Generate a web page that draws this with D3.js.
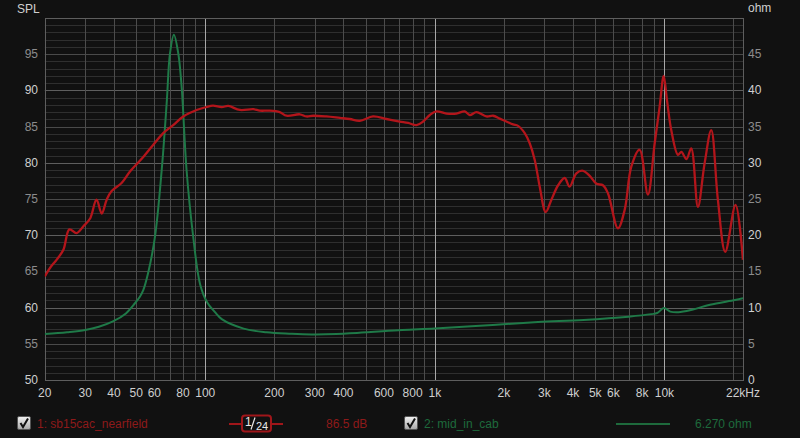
<!DOCTYPE html>
<html><head><meta charset="utf-8">
<script src="https://cdn.jsdelivr.net/npm/d3@7"></script>
<style>
html,body{margin:0;padding:0;background:#111111;}
svg{display:block;font-family:"Liberation Sans",Arial,sans-serif;}
</style></head>
<body>
<svg id="chart" width="800" height="438"></svg>
<script>
// ---- data ----
const splFreq = [20,21.1,22.5,24.1,25.6,27.5,29.4,31.5,33.6,35.4,37.2,39.1,43.2,47,53.7,59.4,65.6,72.5,80.2,91.7,101,108,118,126,141.5,162,173,191,211,226,258,276,295,337,386,426,471,538,616,703,765,832,889,951,1016,1124,1242,1350,1420,1518,1678,1794,1918,2050,2192,2304,2464,2590,2724,2864,3042,3220,3444,3680,3866,4136,4420,4728,5060,5400,5676,6278,6714,7180,7800,8476,9072,9530,9930,10260,10716,11456,11858,12474,13092,13996,14964,16000,17100,18410,20420,21980];
const splDb = [64.3,65.5,66.6,68.0,70.8,70.3,71.2,72.3,74.9,73.0,74.9,76.1,77.2,78.8,80.8,82.5,84.1,85.2,86.4,87.3,87.7,87.9,87.7,87.85,87.3,87.4,87.2,87.2,87.0,86.5,86.7,86.4,86.5,86.4,86.2,86.05,85.8,86.4,86.05,85.7,85.5,85.2,85.7,86.6,87.1,86.8,86.8,87.1,86.6,87.0,86.4,86.5,86.1,85.7,85.3,85.1,84.1,82.7,80.4,76.7,73.2,74.9,76.9,77.9,76.7,78.55,78.9,78.2,77.1,76.9,75.8,70.95,73.5,79.5,81.8,75.6,82.7,87.7,92.0,88.7,84.5,81.1,81.5,80.5,82.0,73.9,79.9,84.5,74.9,67.7,74.2,66.6];
const zFreq = [20,25,30,34.4,39.4,45.1,49.4,51.9,53.7,56.4,60.4,64.6,67.9,70.2,73,76.3,78.9,82.9,88.6,95,102,110,118,147,185,232,291,458,721,1000,1788,2817,4440,6980,8770,9300,9960,10600,11500,13200,15800,20300,22000];
const zOhm = [6.35,6.6,6.9,7.35,8.05,9.2,10.6,11.5,12.4,14.8,19.8,29.0,38.2,45.1,47.7,45.1,40.5,29.0,19.8,13.2,10.7,9.4,8.4,7.1,6.6,6.4,6.3,6.5,6.9,7.1,7.6,8.0,8.3,8.75,9.1,9.25,9.95,9.45,9.35,9.7,10.4,11.05,11.3];
const xTickVals = [20,30,40,50,60,80,100,200,300,400,600,800,1000,2000,3000,4000,5000,6000,8000,10000,22000];
const xTickLabels = ["20","30","40","50","60","80","100","200","300","400","600","800","1k","2k","3k","4k","5k","6k","8k","10k","22kHz"];
const xGridVals = [30,40,50,60,70,80,90,100,200,300,400,500,600,700,800,900,1000,2000,3000,4000,5000,6000,7000,8000,9000,10000,20000];
const splTicks = [50,55,60,65,70,75,80,85,90,95];
const ohmTicks = [0,5,10,15,20,25,30,35,40,45];

// ---- layout ----
const svg = d3.select("#chart");
const L = 44.8, R = 743, T = 18, B = 380;
const x = d3.scaleLog().domain([20,22000]).range([L,R]);
const yS = d3.scaleLinear().domain([50,100]).range([B,T]);
const yZ = d3.scaleLinear().domain([0,50]).range([B,T]);

const grid = svg.append("g");
d3.range(51,100).forEach(v=>{
  const major5 = v%5===0, major10 = v%10===0;
  grid.append("line").attr("x1",L).attr("x2",R)
    .attr("y1",Math.round(yS(v))+0.5).attr("y2",Math.round(yS(v))+0.5)
    .attr("stroke", major10 ? "#5e5e5e" : (major5 ? "#4a4a4a" : "#2f2f2f")).attr("stroke-width",1);
});
xGridVals.forEach(f=>{
  const bright = (f===100||f===1000||f===10000);
  grid.append("line").attr("x1",Math.round(x(f))+0.5).attr("x2",Math.round(x(f))+0.5)
    .attr("y1",T).attr("y2",B)
    .attr("stroke", bright ? "#a8a8a8" : "#4c4c4c").attr("stroke-width",1);
});
grid.append("rect").attr("x",Math.round(L)+0.5).attr("y",T+0.5).attr("width",Math.round(R)-Math.round(L)).attr("height",B-T)
  .attr("fill","none").attr("stroke","#5e5e5e");

const txt = svg.append("g").attr("font-size",12);
splTicks.forEach(v=>{
  txt.append("text").attr("x",38).attr("y",yS(v)+4).attr("text-anchor","end")
    .attr("fill", v%10===0 ? "#cfcfcf" : "#8c8c8c").text(v);
});
ohmTicks.forEach(v=>{
  txt.append("text").attr("x",748).attr("y",yZ(v)+4).attr("text-anchor","start")
    .attr("fill", v%10===0 ? "#cfcfcf" : "#8c8c8c").text(v);
});
xTickVals.forEach((f,i)=>{
  const t = txt.append("text").attr("y",397).attr("fill","#cfcfcf").text(xTickLabels[i]);
  if (f===22000) t.attr("x",x(f)-17).attr("text-anchor","start");
  else t.attr("x",x(f)).attr("text-anchor","middle");
});
txt.append("text").attr("x",17).attr("y",13).attr("fill","#cfcfcf").text("SPL");
txt.append("text").attr("x",748).attr("y",12).attr("fill","#cfcfcf").text("ohm");

svg.append("clipPath").attr("id","clip").append("rect")
  .attr("x",L).attr("y",T).attr("width",R-L).attr("height",B-T);
const zData = zFreq.map((f,i)=>[f,zOhm[i]]);
const sData = splFreq.map((f,i)=>[f,splDb[i]]);
const lineZ = d3.line().x(d=>x(d[0])).y(d=>yZ(d[1])).curve(d3.curveCatmullRom.alpha(0.5));
const lineS = d3.line().x(d=>x(d[0])).y(d=>yS(d[1])).curve(d3.curveCatmullRom.alpha(0.5));
svg.append("path").datum(zData).attr("d",lineZ).attr("fill","none")
  .attr("stroke","#1f7a48").attr("stroke-width",2).attr("clip-path","url(#clip)");
svg.append("path").datum(sData).attr("d",lineS).attr("fill","none")
  .attr("stroke","#b3151b").attr("stroke-width",2.3).attr("clip-path","url(#clip)");

// legend
const defs = svg.append("defs");
const grad = defs.append("linearGradient").attr("id","cbg").attr("x1",0).attr("y1",0).attr("x2",0).attr("y2",1);
grad.append("stop").attr("offset","0%").attr("stop-color","#f2f2f2");
grad.append("stop").attr("offset","100%").attr("stop-color","#a8a8a8");
function checkbox(cx){
  const g = svg.append("g");
  g.append("rect").attr("x",cx).attr("y",416.5).attr("width",13).attr("height",13).attr("rx",1.5)
    .attr("fill","url(#cbg)").attr("stroke","#555");
  g.append("path").attr("d",`M${cx+3},${423} L${cx+5.5},${427} L${cx+10.5},${418.5}`)
    .attr("fill","none").attr("stroke","#111").attr("stroke-width",2);
}
checkbox(17.5);
checkbox(404.5);
const lg = svg.append("g").attr("font-size",12);
lg.append("text").attr("x",37).attr("y",428).attr("fill","#8e1a1a").text("1: sb15cac_nearfield");
lg.append("line").attr("x1",229).attr("x2",283).attr("y1",424).attr("y2",424).attr("stroke","#a0161a").attr("stroke-width",2);
lg.append("rect").attr("x",242).attr("y",415.5).attr("width",29).attr("height",16).attr("rx",3)
  .attr("fill","#111").attr("stroke","#a0161a").attr("stroke-width",2);
lg.append("text").attr("x",245).attr("y",426).attr("fill","#e8e8e8").attr("font-size",12).text("1");
lg.append("line").attr("x1",255).attr("x2",251).attr("y1",417.5).attr("y2",429.5).attr("stroke","#e8e8e8").attr("stroke-width",1.2);
lg.append("text").attr("x",256).attr("y",430).attr("fill","#e8e8e8").attr("font-size",11).text("24");
lg.append("text").attr("x",326).attr("y",428).attr("fill","#8e1a1a").text("86.5 dB");
lg.append("text").attr("x",424).attr("y",428).attr("fill","#1e6a3c").text("2: mid_in_cab");
lg.append("line").attr("x1",616).attr("x2",670).attr("y1",424).attr("y2",424).attr("stroke","#1e6a3c").attr("stroke-width",2);
lg.append("text").attr("x",695).attr("y",428).attr("fill","#1e6a3c").text("6.270 ohm");
</script>
</body></html>
